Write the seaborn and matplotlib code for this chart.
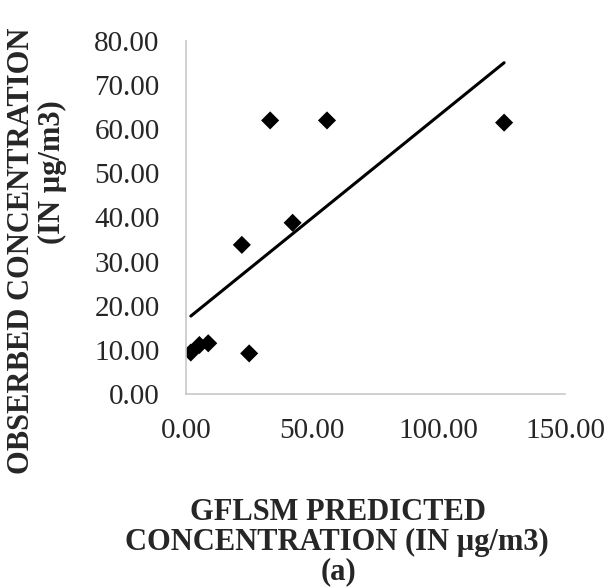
import matplotlib
matplotlib.use("Agg")
import matplotlib.pyplot as plt
import seaborn as sns
import pandas as pd

predicted = [1.9, 5.3, 8.8, 25.0, 22.1, 33.3, 55.8, 42.2, 125.9]
observed = [9.4, 11.1, 11.5, 9.2, 33.8, 62.0, 62.0, 38.8, 61.5]
x_ticks = [0, 50, 100, 150]
y_ticks = [0, 10, 20, 30, 40, 50, 60, 70, 80]

df = pd.DataFrame({"predicted": predicted, "observed": observed})

sns.set_theme(style="white")
plt.rcParams['font.family'] = ['Liberation Serif', 'DejaVu Serif']

fig = plt.figure(figsize=(6.08, 5.88), dpi=100)
ax = fig.add_axes([186/608, 1-394/588, (565-186)/608, (394-41)/588])

sns.regplot(data=df, x="predicted", y="observed", ax=ax, ci=None, truncate=True,
            marker="D", scatter_kws={"s": 85, "color": "black", "edgecolors": "none", "alpha": 1},
            line_kws={"color": "black", "lw": 2.2})

ax.set_xlim(0, 150)
ax.set_ylim(0, 80)
ax.set_xticks(x_ticks)
ax.set_yticks(y_ticks)
ax.set_xticklabels([f"{v:.2f}" for v in x_ticks], fontsize=21)
ax.set_yticklabels([f"{v:.2f}" for v in y_ticks], fontsize=21)
ax.tick_params(axis="x", length=0, pad=17)
ax.tick_params(axis="y", length=0, pad=19)
ax.set_xlabel("")
ax.set_ylabel("")
for s in ["top", "right"]:
    ax.spines[s].set_visible(False)
for s in ["left", "bottom"]:
    ax.spines[s].set_color("#c8c8c8")
    ax.spines[s].set_linewidth(1.2)

fs = 22
fig.text(22/608, 1-251/588, "OBSERBED CONCENTRATION", rotation=90, ha="center", va="center",
         fontsize=fs, fontweight="bold")
fig.text(52/608, 1-172/588, "(IN µg/m3)", rotation=90, ha="center", va="center",
         fontsize=fs, fontweight="bold")
fig.text(338/608, 1-513/588, "GFLSM PREDICTED", ha="center", va="center",
         fontsize=fs, fontweight="bold")
fig.text(337/608, 1-542/588, "CONCENTRATION (IN µg/m3)", ha="center", va="center",
         fontsize=fs, fontweight="bold")
fig.text(338/608, 1-572/588, "(a)", ha="center", va="center",
         fontsize=fs, fontweight="bold")

fig.savefig("out.png", dpi=100, facecolor="white")
